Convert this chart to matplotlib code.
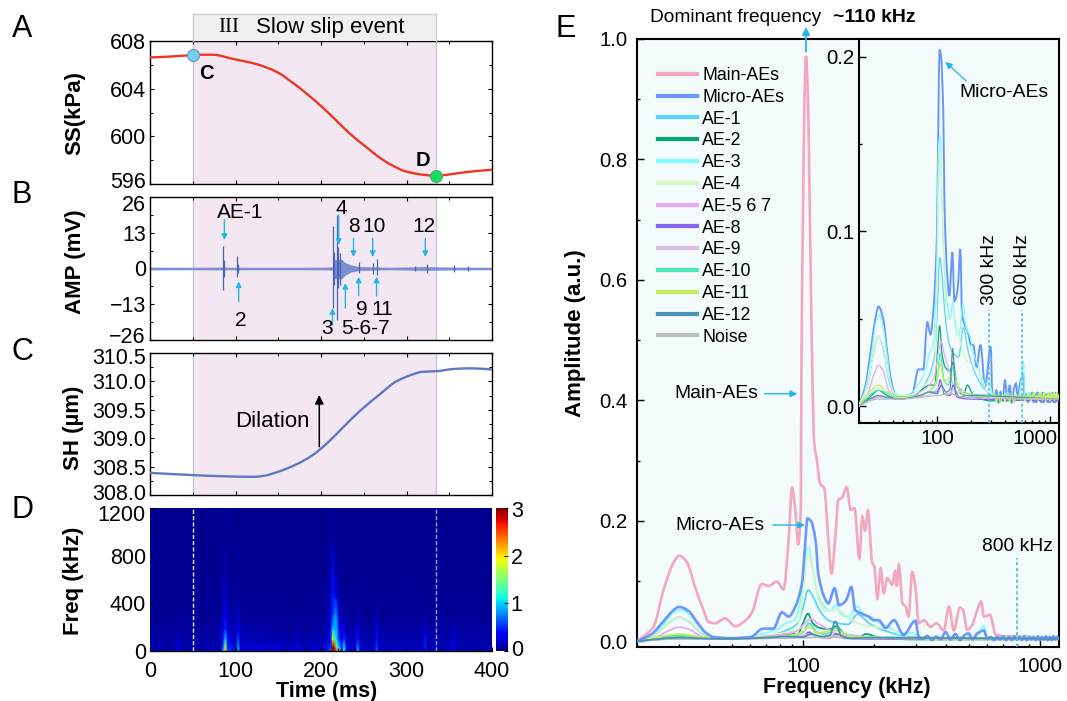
import numpy as np
import matplotlib
matplotlib.use("Agg")
from matplotlib import pyplot as plt
from matplotlib.lines import Line2D
from matplotlib.patches import PathPatch
from matplotlib.path import Path
from matplotlib.ticker import MultipleLocator, LogLocator, NullFormatter, FixedLocator
from matplotlib.transforms import ScaledTranslation

plt.rcParams["font.family"] = ["Liberation Sans", "DejaVu Sans"]
plt.rcParams["axes.linewidth"] = 1.0

W, H = 1067, 701

# panel A: shear stress
ss_t = [0, 25, 50, 62, 73, 97, 124, 147, 170, 194, 213, 233, 252, 272, 285, 299, 319, 334, 350, 370, 400]
ss_v = [606.62, 606.7, 606.82, 606.85, 606.85, 606.5, 606.07, 605.45, 604.33, 602.93, 601.67, 600.27,
        599.15, 598.04, 597.5, 597.06, 596.78, 596.7, 596.8, 597.0, 597.2]
ss_ticks = [596, 600, 604, 608]

# panel B: acoustic emission amplitude
amp_t = [0, 40, 80, 120, 170, 205, 214, 216, 224, 228, 235, 245, 260, 280, 320, 360, 400]
amp_hi = [0.5, 0.45, 0.5, 0.45, 0.45, 0.5, 0.6, 3.2, 3.4, 2.2, 1.3, 0.7, 0.6, 0.45, 0.7, 0.5, 0.45]
amp_lo = [-0.5, -0.45, -0.5, -0.45, -0.45, -0.5, -0.6, -3.6, -3.8, -2.5, -1.3, -0.7, -0.6, -0.45, -0.7, -0.5, -0.45]
spike_t = [85.8, 86.6, 102, 102.8, 214.4, 215.4, 218.3, 219.4, 222, 244, 261, 266, 310, 323.6, 355, 372]
spike_hi = [8.2, 3.0, 4.4, 1.6, 15.3, 6.0, 19.5, 8.0, 5.5, 2.5, 2.0, 3.3, 1.0, 1.6, 1.1, 0.9]
spike_lo = [-7.8, -3.0, -3.2, -1.5, -14.4, -6.0, -18.9, -7.0, -6.0, -1.5, -2.0, -2.5, -1.0, -1.6, -1.1, -0.9]
amp_ticks = [-26, -13, 0, 13, 26]

# panel C: sample height
sh_t = [0, 50, 86, 122, 134, 150, 170, 190, 207, 227, 247, 267, 287, 303, 319, 335, 356, 376, 400]
sh_v = [308.39, 308.35, 308.33, 308.32, 308.34, 308.41, 308.53, 308.70, 308.91, 309.21, 309.50, 309.75,
        309.99, 310.10, 310.17, 310.18, 310.22, 310.23, 310.21]
sh_ticks = [308.0, 308.5, 309.0, 309.5, 310.0, 310.5]

# panel D: time-frequency map
spec_ticks = [0, 400, 800, 1200]
spec_f = [0, 40, 100, 180, 300, 450, 650, 900, 1200]
spec_t = [0, 30, 33, 36, 70, 83, 86, 88, 91, 100, 103, 106, 140, 170, 173, 176, 205, 211, 214, 216, 218,
          221, 224, 227, 230, 240, 243, 246, 262, 265, 268, 300, 319, 322, 325, 352, 355, 358, 400]
spec_cols = [
    [.14, .12, .10, .08, .06, .05, .05, .05, .04],
    [.14, .12, .10, .08, .06, .05, .05, .05, .04],
    [.28, .26, .20, .12, .07, .05, .05, .05, .04],
    [.14, .12, .10, .08, .06, .05, .05, .05, .04],
    [.16, .13, .10, .08, .06, .06, .05, .04, .05],
    [.18, .15, .12, .10, .08, .07, .06, .05, .05],
    [.90, .70, .50, .35, .22, .14, .08, .05, .05],
    [2.1, 1.7, 1.00, .50, .38, .22, .16, .06, .05],
    [.60, .50, .32, .22, .14, .10, .07, .05, .05],
    [.20, .18, .14, .10, .08, .06, .05, .05, .04],
    [.90, .80, .55, .32, .26, .12, .06, .05, .04],
    [.25, .22, .16, .12, .08, .06, .05, .05, .04],
    [.28, .20, .14, .10, .07, .06, .05, .05, .04],
    [.18, .15, .10, .08, .06, .05, .05, .05, .04],
    [.30, .26, .20, .14, .08, .06, .05, .05, .04],
    [.18, .15, .10, .08, .06, .05, .05, .05, .04],
    [.25, .20, .15, .10, .08, .06, .05, .05, .04],
    [.70, .50, .35, .28, .20, .14, .12, .06, .05],
    [3.0, 2.9, 1.90, 1.0, .50, .45, .42, .10, .05],
    [3.0, 2.6, 1.30, .85, .85, .36, .20, .07, .05],
    [2.6, 1.4, 1.05, .95, .75, .28, .10, .05, .05],
    [1.5, 1.0, .55, .42, .25, .12, .06, .05, .05],
    [.40, .35, .25, .18, .10, .07, .05, .05, .04],
    [1.2, 1.0, .50, .28, .12, .07, .05, .05, .04],
    [.30, .25, .18, .12, .08, .06, .05, .05, .04],
    [.20, .18, .14, .10, .07, .06, .05, .05, .04],
    [.95, .70, .45, .32, .12, .07, .05, .05, .04],
    [.20, .18, .14, .10, .07, .06, .05, .05, .04],
    [.20, .16, .12, .10, .07, .06, .05, .05, .04],
    [.70, .55, .40, .32, .14, .07, .05, .05, .04],
    [.20, .16, .12, .10, .07, .06, .05, .05, .04],
    [.18, .15, .12, .10, .07, .06, .05, .05, .04],
    [.18, .15, .12, .10, .07, .06, .05, .05, .04],
    [.45, .48, .42, .22, .10, .06, .05, .05, .04],
    [.18, .15, .12, .10, .07, .06, .05, .05, .04],
    [.16, .14, .12, .10, .07, .06, .05, .05, .04],
    [.38, .34, .28, .16, .08, .06, .05, .05, .04],
    [.16, .14, .12, .10, .07, .06, .05, .05, .04],
    [.14, .12, .10, .08, .06, .05, .05, .05, .04],
]

# panel E: spectra, frequency in kHz
main_f = [20, 23.4, 25.8, 28.4, 30.1, 32.3, 35, 38, 40, 42.6, 47, 51.8, 57, 60.8, 67, 71.6, 77.6, 82.8, 87, 90,
          92.5, 95.6, 98, 98.5, 100, 101.5, 103, 105, 107, 109.5, 111.5, 114.6, 118, 123, 128, 132, 137, 141,
          146, 153, 159, 165, 173, 178, 183, 188, 196, 200, 206, 213, 219, 227, 238, 245, 249, 254, 263, 271,
          279, 289, 298, 308, 324, 345, 366, 393, 413, 433, 459, 474, 493, 518, 544, 565, 580, 615, 651, 726,
          802, 1200]
main_a = [0, .024, .085, .13, .142, .132, .091, .052, .032, .030, .038, .025, .034, .047, .095, .092, .099, .086,
          .168, .255, .224, .161, .224, .45, .70, .90, .972, .90, .70, .45, .33, .30, .262, .254, .168, .113,
          .174, .235, .238, .256, .218, .221, .138, .207, .184, .217, .130, .125, .071, .121, .08, .105, .094,
          .116, .091, .127, .063, .058, .041, .115, .091, .03, .035, .024, .03, .018, .058, .018, .056, .052,
          .019, .027, .052, .066, .041, .044, .011, .008, .008, .005]

# noisy tail above 300 kHz, shared frequency grid
tail_f = [320, 335, 350, 365, 380, 400, 420, 440, 460, 480, 500, 520, 540, 560, 580, 600, 620, 640, 660, 680, 700,
          720, 740, 760, 780, 800, 820, 840, 860, 880, 900, 920, 940, 960, 980, 1000, 1020, 1040, 1060, 1080, 1100,
          1120, 1140, 1160, 1180, 1200]
micro_tail = [.004, .009, .002, .008, .003, .015, .003, .012, .002, .010, .013, .003, .012, .016, .018, .004,
              .007, .002, .007, .003, .008, .002, .007, .002, .008, .003, .007, .002, .008, .002, .007, .003,
              .007, .002, .008, .002, .007, .003, .008, .002, .007, .002, .008, .003, .007, .004]
lime_tail = [.007, .003, .006, .002, .007, .003, .006, .003, .007, .002, .006, .004, .007, .003, .006, .003,
             .006, .004, .008, .003, .006, .008, .004, .006, .003, .007, .004, .008, .003, .006, .008, .003,
             .006, .004, .008, .003, .007, .004, .006, .008, .003, .007, .004, .008, .005, .006]
ae3_tail = [.006, .002, .007, .004, .006, .003, .008, .004, .006, .003, .007, .004, .008, .016, .026, .006,
            .005, .007, .003, .006, .004, .007, .003, .006, .004, .007, .003, .006, .004, .007, .003, .006,
            .004, .007, .003, .006, .004, .007, .003, .006, .004, .007, .003, .006, .004, .005]

micro_f = [20, 23, 26, 28.5, 30, 33, 36, 39, 42, 50, 60, 68, 75, 81.5, 87, 93, 99, 102, 104.5, 108, 113, 116, 122,
           128, 136, 142, 148, 153, 160, 166, 174, 189, 199, 209, 223, 242, 266, 298, 308] + tail_f
micro_a = [0, .012, .035, .052, .057, .05, .03, .014, .007, .005, .007, .021, .021, .048, .041, .058, .096, .157,
           .204, .20, .168, .113, .077, .063, .088, .06, .063, .07, .09, .052, .047, .041, .035, .035, .022,
           .035, .011, .034, .008] + micro_tail
ae1_f = [20, 24, 27, 30, 33, 37, 42, 55, 70, 85, 95, 100, 105, 110, 118, 128, 140, 155, 170, 190, 220, 260, 310, 1200]
ae1_a = [0, .012, .03, .04, .033, .015, .006, .005, .008, .018, .03, .055, .085, .075, .05, .035, .03, .028, .045, .03, .018, .01, .006, .004]
ae2_f = [20, 25, 30, 36, 45, 60, 75, 85, 95, 100, 105, 110, 118, 130, 138, 150, 170, 185, 210, 300, 1200]
ae2_a = [0, .005, .009, .006, .004, .005, .01, .012, .012, .03, .046, .03, .022, .02, .025, .012, .006, .012, .006, .003, .004]
ae3_f = [20, 23, 26, 28.5, 30.5, 33, 36, 39, 43, 50, 60, 70, 78, 85, 92, 98, 103, 106, 110, 115, 122, 130, 137, 145,
         155, 170, 180, 195, 210, 235, 255, 290, 308] + tail_f
ae3_a = [0, .01, .03, .048, .052, .045, .028, .012, .006, .006, .008, .014, .02, .03, .035, .07, .15, .155, .12, .08,
         .06, .05, .06, .045, .04, .058, .045, .04, .03, .022, .012, .014, .007] + ae3_tail
ae4_f = [20, 24, 27, 30, 33, 37, 42, 55, 70, 85, 95, 100, 105, 110, 116, 125, 140, 155, 170, 190, 220, 250, 290, 1200]
ae4_a = [0, .012, .03, .04, .034, .016, .007, .006, .01, .015, .025, .08, .145, .12, .07, .05, .052, .04, .03, .025, .022, .016, .005, .004]
ae5_f = [20, 24, 27, 30, 33, 37, 42, 55, 70, 85, 95, 102, 108, 115, 125, 140, 160, 190, 240, 1200]
ae5_a = [0, .007, .017, .0235, .02, .009, .005, .005, .008, .012, .018, .03, .037, .03, .022, .012, .01, .007, .004, .004]
ae8_f = [20, 30, 45, 70, 85, 100, 106, 115, 130, 138, 150, 190, 1200]
ae8_a = [0, .005, .004, .006, .008, .008, .015, .007, .006, .012, .005, .004, .003]
ae9_f = [20, 30, 45, 70, 90, 105, 125, 140, 170, 1200]
ae9_a = [0, .005, .004, .005, .007, .011, .007, .009, .006, .004]
ae10_f = [20, 30, 45, 70, 90, 100, 106, 115, 125, 138, 150, 175, 1200]
ae10_a = [0, .009, .005, .006, .01, .015, .03, .015, .012, .022, .012, .007, .005]
ae11_f = [20, 25, 30, 36, 45, 70, 90, 100, 106, 115, 138, 160, 300] + tail_f
ae11_a = [0, .008, .012, .008, .005, .006, .01, .016, .024, .014, .018, .008, .005] + lime_tail
ae12_f = [20, 25, 30, 36, 45, 70, 85, 100, 108, 120, 130, 137, 145, 160, 180, 1200]
ae12_a = [0, .004, .006, .005, .004, .006, .008, .007, .012, .008, .01, .033, .009, .005, .006, .004]
noise_f = [20, 25, 30, 45, 70, 100, 130, 170, 1200]
noise_a = [0, .003, .004, .004, .005, .006, .007, .005, .004]

series = [
    ("AE-1", ae1_f, ae1_a, "#5ad4fb"),
    ("AE-2", ae2_f, ae2_a, "#05a870"),
    ("AE-3", ae3_f, ae3_a, "#7ffcfc"),
    ("AE-4", ae4_f, ae4_a, "#d4f7c0"),
    ("AE-5 6 7", ae5_f, ae5_a, "#eaa9f5"),
    ("AE-8", ae8_f, ae8_a, "#8565e8"),
    ("AE-9", ae9_f, ae9_a, "#d9c0e8"),
    ("AE-10", ae10_f, ae10_a, "#4fe8bc"),
    ("AE-11", ae11_f, ae11_a, "#c5ee5f"),
    ("AE-12", ae12_f, ae12_a, "#4f93b3"),
    ("Noise", noise_f, noise_a, "#bdbdbd"),
]

BAND = (50.3, 334.5)
BAND_COLOR = "#f3e8f2"
EDGE_COLOR = "#c9c9d2"
ARROW_COLOR = "#22b5ea"
BG_E = "#f3fbfd"


def axes_px(left, top, right, bottom, **kw):
    return fig.add_axes([left / W, 1 - bottom / H, (right - left) / W, (bottom - top) / H], **kw)


def put_text(x, y, s, **kw):
    kw.setdefault("ha", "center")
    kw.setdefault("va", "center")
    fig.text(x / W, 1 - y / H, s, **kw)


def nudge(label, dx=0, dy=0):
    # shift a tick label by pixels, +dy is downwards
    label.set_transform(label.get_transform() + ScaledTranslation(dx / 100, -dy / 100, fig.dpi_scale_trans))


def style_time_axis(ax, yticks, yminor):
    ax.set_xlim(0, 400)
    ax.xaxis.set_major_locator(MultipleLocator(100))
    ax.xaxis.set_minor_locator(MultipleLocator(50))
    ax.set_yticks(yticks)
    ax.yaxis.set_minor_locator(MultipleLocator(yminor))
    ax.tick_params(which="both", direction="in", top=True, right=True, labelbottom=False, labelsize=15.5, pad=3)
    ax.tick_params(which="major", length=3, width=0.8)
    ax.tick_params(which="minor", length=2, width=0.7)
    ax.axvspan(*BAND, color=BAND_COLOR, lw=0, zorder=0)
    for x in BAND:
        ax.axvline(x, color=EDGE_COLOR, lw=1, zorder=1)


def cyan_arrow(ax, start, end, lw=1.0, scale=8):
    ax.annotate("", xy=end, xytext=start, annotation_clip=False, zorder=6,
                arrowprops=dict(arrowstyle="-|>", color=ARROW_COLOR, lw=lw, mutation_scale=scale,
                                shrinkA=0, shrinkB=0))


def draw_curve(ax, x, y, color, lw, zorder=3, logx=False):
    # draws the read values as a smooth bezier through them, flat at local extrema
    x = np.log10(x) if logx else np.asarray(x, dtype=float)
    y = np.asarray(y, dtype=float)
    h = np.diff(x)
    d = np.diff(y) / h
    m = np.zeros_like(y)
    same = d[:-1] * d[1:] > 0
    m[1:-1][same] = 2 * d[:-1][same] * d[1:][same] / (d[:-1][same] + d[1:][same])
    m[0], m[-1] = d[0], d[-1]
    verts = [(x[0], y[0])]
    codes = [Path.MOVETO]
    for i in range(len(h)):
        verts += [(x[i] + h[i] / 3, y[i] + m[i] * h[i] / 3),
                  (x[i + 1] - h[i] / 3, y[i + 1] - m[i + 1] * h[i] / 3),
                  (x[i + 1], y[i + 1])]
        codes += [Path.CURVE4] * 3
    verts = np.array(verts)
    if logx:
        verts[:, 0] = 10 ** verts[:, 0]
    ax.add_patch(PathPatch(Path(verts, codes), fc="none", ec=color, lw=lw, zorder=zorder, capstyle="round"))


fig = plt.figure(figsize=(W / 100, H / 100), dpi=100)

# A
ax_a = axes_px(150, 41, 492, 184)
style_time_axis(ax_a, ss_ticks, 2)
ax_a.set_ylim(596, 608)
draw_curve(ax_a, ss_t, ss_v, "#ee3524", 1.7)
ax_a.plot([ss_t[2]], [ss_v[2]], "o", ms=8.6, mfc="#74d0f7", mec="#6f97ad", mew=0.8, clip_on=False, zorder=5)
ax_a.plot([ss_t[17]], [ss_v[17]], "o", ms=8.6, mfc="#0fe060", mec="#5f9f78", mew=0.8, clip_on=False, zorder=5)
ax_a.text(65.5, 605.3, "C", fontsize=14.5, fontweight="bold", ha="center", va="center")
ax_a.text(319, 598, "D", fontsize=14.5, fontweight="bold", ha="center", va="center")
nudge(ax_a.get_yticklabels()[0], dy=-4)

# header over the band
hdr = axes_px(193, 14, 436, 41)
hdr.set_xticks([])
hdr.set_yticks([])
hdr.set_facecolor("#f0f0f0")
for s in hdr.spines.values():
    s.set_color("#cfcfcf")
hdr.spines["bottom"].set_visible(False)
put_text(229, 27, "III", fontsize=15, family="Liberation Serif")
put_text(330, 27, "Slow slip event", fontsize=16)

# B
ax_b = axes_px(150, 197, 492, 340)
style_time_axis(ax_b, amp_ticks, 6.5)
ax_b.set_ylim(-26, 26)
ax_b.fill_between(amp_t, amp_lo, amp_hi, color="#7d8fd0", lw=0, zorder=2)
ax_b.vlines(spike_t, spike_lo, spike_hi, color="#4a63b5", lw=0.9, zorder=3)
nudge(ax_b.get_yticklabels()[0], dy=-5)
nudge(ax_b.get_yticklabels()[-1], dy=6)
for start, end in [((87, 17.7), (87, 10.4)), ((103.7, -12), (103.7, -4.7)), ((213.4, -20.5), (213.4, -14.4)),
                   ((220.7, 19.5), (220.7, 8.6)), ((238, 11), (238, 4.2)), ((260.5, 11), (260.5, 4.2)),
                   ((322, 11), (322, 4.2)), ((228.5, -14.4), (228.5, -5.3)), ((244, -10), (244, -3)),
                   ((265, -10), (265, -3))]:
    cyan_arrow(ax_b, start, end)
for x, y, s in [(105, 20.5, "AE-1"), (224, 21.7, "4"), (238.3, 15.3, "8"), (262, 15.3, "10"), (320, 15.3, "12"),
                (106.6, -19, "2"), (207, -22, "3"), (252, -22, "5-6-7"), (247.7, -15, "9"), (272, -15, "11")]:
    ax_b.text(x, y, s, fontsize=15, ha="center", va="center", zorder=7)

# C
ax_c = axes_px(150, 353, 492, 495)
style_time_axis(ax_c, sh_ticks, 0.25)
ax_c.set_ylim(308, 310.5)
ax_c.yaxis.set_major_formatter("{x:.1f}")
draw_curve(ax_c, sh_t, sh_v, "#5f78c2", 1.7)
ax_c.text(99, 309.29, "Dilation", fontsize=16, ha="left", va="center")
ax_c.annotate("", xy=(198, 309.76), xytext=(198, 308.85),
              arrowprops=dict(arrowstyle="-|>", color="black", lw=1.1, mutation_scale=13, shrinkA=0, shrinkB=0))
nudge(ax_c.get_yticklabels()[0], dy=-3)
nudge(ax_c.get_yticklabels()[-1], dy=3)

# D
ax_d = axes_px(150, 508, 492, 651)
mesh = ax_d.pcolormesh(spec_t, spec_f, np.array(spec_cols).T, cmap="jet", vmin=0, vmax=3, shading="gouraud")
ax_d.set_xlim(0, 400)
ax_d.set_ylim(0, 1200)
ax_d.xaxis.set_major_locator(MultipleLocator(100))
ax_d.xaxis.set_minor_locator(MultipleLocator(20))
ax_d.set_yticks(spec_ticks)
ax_d.yaxis.set_minor_locator(MultipleLocator(200))
ax_d.tick_params(which="both", direction="in", labelsize=15.5, pad=3)
ax_d.tick_params(which="major", length=3, width=0.8)
ax_d.tick_params(which="minor", length=2, width=0.7)
ax_d.tick_params(axis="x", pad=7)
for s in ax_d.spines.values():
    s.set_visible(False)
ax_d.spines["bottom"].set_visible(True)
ax_d.axvline(BAND[0], color="#e4e8ff", lw=1, ls=(0, (3, 1.5)))
ax_d.axvline(BAND[1], color="#8fa0f0", lw=1, ls=(0, (3, 1.5)))
nudge(ax_d.get_yticklabels()[-1], dy=5)

cax = axes_px(496, 508, 508, 651)
cb = fig.colorbar(mesh, cax=cax, ticks=[0, 1, 2, 3])
cb.outline.set_visible(False)
cax.tick_params(direction="in", length=3, width=0.8, labelsize=15.5, pad=2)
nudge(cax.get_yticklabels()[0], dy=-3)
nudge(cax.get_yticklabels()[-1], dy=1)

# E main
ax_e = axes_px(637.3, 39, 1058.7, 647.3, facecolor=BG_E)
ax_e.set_xscale("log")
ax_e.set_xlim(20, 1200)
ax_e.set_ylim(-0.01, 1.0)
ax_e.yaxis.set_major_locator(MultipleLocator(0.2))
ax_e.yaxis.set_minor_locator(MultipleLocator(0.1))
ax_e.xaxis.set_major_locator(FixedLocator([100, 1000]))
ax_e.xaxis.set_major_formatter(lambda v, pos: f"{v:.0f}")
ax_e.xaxis.set_minor_locator(LogLocator(base=10, subs=range(2, 10), numticks=10))
ax_e.xaxis.set_minor_formatter(NullFormatter())
ax_e.tick_params(which="both", direction="in", labelsize=14.7, width=1.0, pad=7)
ax_e.tick_params(which="major", length=5)
ax_e.tick_params(which="minor", length=2.5)
for s in ax_e.spines.values():
    s.set_linewidth(1.5)

draw_curve(ax_e, main_f, main_a, "#f4a7bd", 1.9, logx=True)
draw_curve(ax_e, micro_f, micro_a, "#6a97fb", 1.9, zorder=5, logx=True)
for name, f, a, color in series:
    draw_curve(ax_e, f, a, color, 1.3, zorder=6 if name == "AE-12" else 4, logx=True)

handles = [Line2D([], [], color="#f4a7bd", lw=3, label="Main-AEs"),
           Line2D([], [], color="#6a97fb", lw=3, label="Micro-AEs")]
handles += [Line2D([], [], color=c, lw=3, label=name) for name, f, a, c in series]
ax_e.legend(handles=handles, loc="upper left", bbox_to_anchor=((658 - 637.3) / 421.4, (647.3 - 67) / 608.3),
            frameon=False, fontsize=12.8, handlelength=2.2, handletextpad=0.3, labelspacing=0.27, borderpad=0,
            borderaxespad=0)

put_text(650, 17, "Dominant frequency", fontsize=13.8, ha="left")
put_text(833, 17, "~110 kHz", fontsize=14, ha="left", fontweight="bold")
cyan_arrow(ax_e, (103, 0.979), (103, 1.02), lw=1.3, scale=11)
cyan_arrow(ax_e, (68.7, 0.411), (94.6, 0.411), lw=1.0, scale=10)
cyan_arrow(ax_e, (74.6, 0.193), (102, 0.193), lw=1.0, scale=10)
ax_e.text(43, 0.411, "Main-AEs", fontsize=13.9, ha="center", va="center", zorder=7)
ax_e.plot([800, 800], [-0.01, 0.138], color="#45bfe0", lw=1.2, ls=(0, (2, 1.5)), zorder=7)
ax_e.text(800, 0.157, "800 kHz", fontsize=13.9, ha="center", va="center")
ax_e.text(44.8, 0.193, "Micro-AEs", fontsize=13.9, ha="center", va="center", zorder=7)

# E inset
ax_i = axes_px(858.7, 39, 1058.7, 423, facecolor=BG_E, zorder=3)
ax_i.set_xscale("log")
ax_i.set_xlim(20, 1200)
ax_i.set_ylim(-0.0097, 0.2101)
ax_i.yaxis.set_major_locator(MultipleLocator(0.1))
ax_i.yaxis.set_minor_locator(MultipleLocator(0.05))
ax_i.xaxis.set_major_locator(FixedLocator([100, 1000]))
ax_i.xaxis.set_major_formatter(lambda v, pos: f"{v:.0f}")
ax_i.xaxis.set_minor_locator(LogLocator(base=10, subs=range(2, 10), numticks=10))
ax_i.xaxis.set_minor_formatter(NullFormatter())
ax_i.tick_params(which="both", direction="in", labelsize=14.7, width=1.0)
ax_i.tick_params(axis="y", pad=3)
ax_i.tick_params(axis="x", pad=4)
ax_i.tick_params(which="major", length=5)
ax_i.tick_params(which="minor", length=2.5)
for s in ax_i.spines.values():
    s.set_linewidth(1.5)
draw_curve(ax_i, micro_f, micro_a, "#6a97fb", 1.4, logx=True)
for name, f, a, color in series:
    draw_curve(ax_i, f, a, color, 0.9, zorder=4, logx=True)
cyan_arrow(ax_i, (181.5, 0.186), (118, 0.197), lw=0.9, scale=10)
ax_i.text(389, 0.1795, "Micro-AEs", fontsize=13.9, ha="center", va="center")
for freq, top, label in [(290, 0.055, "300 kHz"), (570, 0.055, "600 kHz")]:
    ax_i.plot([freq, freq], [-0.0097, top], color="#45bfe0", lw=1.1, ls=(0, (2, 1.5)), zorder=5)
    ax_i.text(freq, top + 0.003, label, fontsize=13.9, rotation=90, ha="center", va="bottom")
fig.canvas.draw()
ax_i.get_xticklabels()[1].set_ha("right")
nudge(ax_i.get_xticklabels()[1], dx=8)

# axis titles and panel letters
for y, s, x in [(113, "SS(kPa)", 75), (262, "AMP (mV)", 75), (428, "SH (µm)", 73), (581, "Freq (kHz)", 73)]:
    put_text(x, y, s, rotation=90, fontsize=16, fontweight="bold")
put_text(327, 692, "Time (ms)", fontsize=15.5, fontweight="bold")
put_text(847, 688, "Frequency (kHz)", fontsize=15.5, fontweight="bold")
put_text(575, 333, "Amplitude (a.u.)", rotation=90, fontsize=16, fontweight="bold")
for x, y, s in [(22, 29, "A"), (22, 195, "B"), (22, 352, "C"), (22, 510, "D"), (566, 29, "E")]:
    put_text(x, y, s, fontsize=22)

fig.savefig("out.png", dpi=100)
